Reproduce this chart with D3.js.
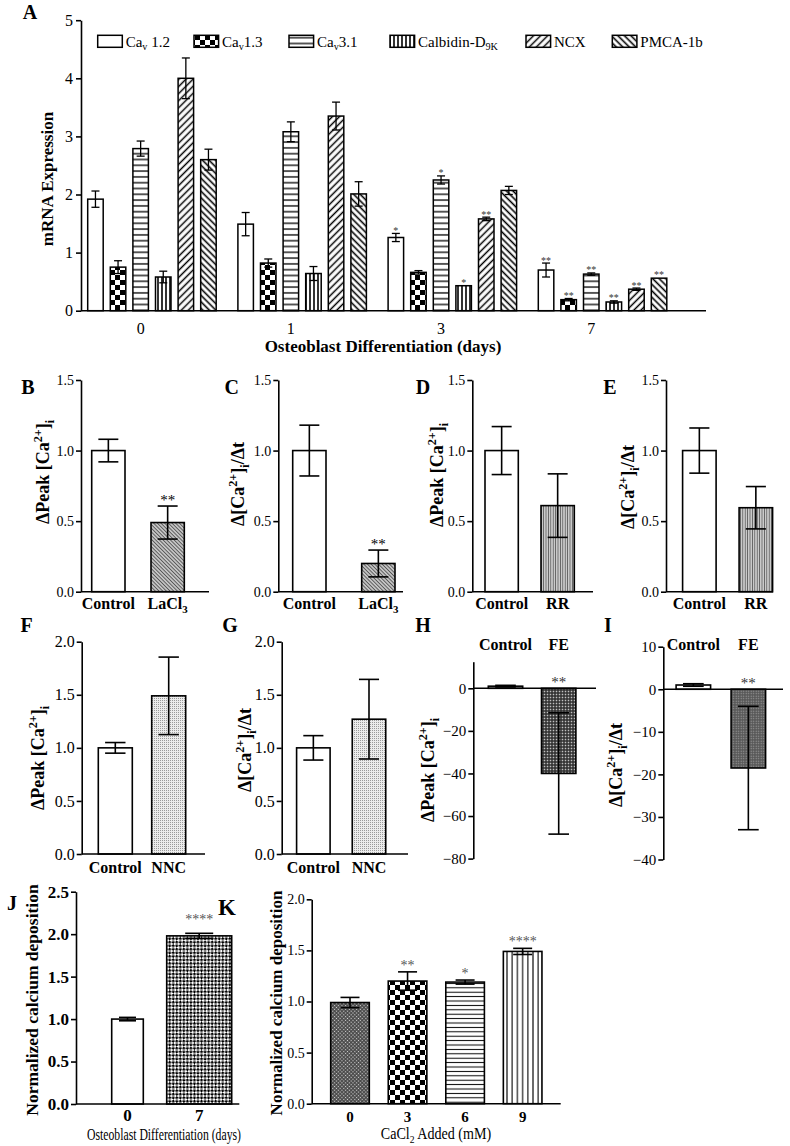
<!DOCTYPE html>
<html><head><meta charset="utf-8">
<script src="https://cdn.jsdelivr.net/npm/d3@7"></script>
<style>
body{margin:0;background:#fff;}
svg{display:block;}
svg text{font-family:"Liberation Serif","Times New Roman",Times,serif;}
</style></head><body>
<svg id="c" width="790" height="1146"></svg>
<script>
// ---------------- DATA ----------------
// Panel A: mRNA expression vs osteoblast differentiation day
const days = ["0", "1", "3", "7"];
const genes = ["Cav1.2", "Cav1.3", "Cav3.1", "Calbidin-D9K", "NCX", "PMCA-1b"];
const cav12Mean = [1.92, 1.49, 1.26, 0.70];
const cav12Err  = [0.14, 0.20, 0.07, 0.12];
const cav12Sig  = ["", "", "*", "**"];
const cav13Mean = [0.75, 0.82, 0.66, 0.19];
const cav13Err  = [0.11, 0.07, 0.03, 0.02];
const cav13Sig  = ["", "", "", "**"];
const cav31Mean = [2.79, 3.08, 2.25, 0.63];
const cav31Err  = [0.13, 0.17, 0.07, 0.02];
const cav31Sig  = ["", "", "*", "**"];
const calbMean  = [0.58, 0.64, 0.43, 0.15];
const calbErr   = [0.10, 0.12, 0.01, 0.02];
const calbSig   = ["", "", "*", "**"];
const ncxMean   = [4.00, 3.35, 1.58, 0.37];
const ncxErr    = [0.35, 0.24, 0.03, 0.02];
const ncxSig    = ["", "", "**", "**"];
const pmcaMean  = [2.60, 2.01, 2.07, 0.56];
const pmcaErr   = [0.18, 0.21, 0.07, 0.005];
const pmcaSig   = ["", "", "", "**"];
const aTicks = [0, 1, 2, 3, 4, 5];

// Panels B-E
const laCats = ["Control", "LaCl3"];
const bMean = [1.0, 0.49];  const bErr = [0.08, 0.117]; const bSig = ["", "**"];
const cMean = [1.0, 0.20];  const cErr = [0.18, 0.095]; const cSig = ["", "**"];
const rrCats = ["Control", "RR"];
const dMean = [1.0, 0.61];  const dErr = [0.17, 0.225]; const dSig = ["", ""];
const eMean = [1.0, 0.595]; const eErr = [0.16, 0.15];  const eSig = ["", ""];
const ticks15 = [0, 0.5, 1.0, 1.5];
// Panels F-G
const nncCats = ["Control", "NNC"];
const fMean = [1.0, 1.49];  const fErr = [0.05, 0.365]; const fSig = ["", ""];
const gMean = [1.0, 1.27];  const gErr = [0.115, 0.375]; const gSig = ["", ""];
const ticks20 = [0, 0.5, 1.0, 1.5, 2.0];
// Panels H-I
const feCats = ["Control", "FE"];
const hMean = [1.0, -40];   const hErr = [0.4, 28.5];  const hSig = ["", "**"];
const hTicks = [-80, -60, -40, -20, 0];
const iMean = [1.0, -18.5]; const iErr = [0.3, 14.5];  const iSig = ["", "**"];
const iTicks = [-40, -30, -20, -10, 0, 10];
// Panel J
const jCats = ["0", "7"];
const jMean = [1.0, 1.98];  const jErr = [0.02, 0.03]; const jSig = ["", "****"];
const jTicks = [0, 0.5, 1.0, 1.5, 2.0, 2.5];
// Panel K
const kCats = ["0", "3", "6", "9"];
const kMean = [0.99, 1.20, 1.19, 1.49];
const kErr  = [0.05, 0.09, 0.02, 0.03];
const kSig  = ["", "**", "*", "****"];

// ---------------- SETUP ----------------
const FONT = "Liberation Serif, Times New Roman, Times, serif";
const svg = d3.select("#c");
const defs = svg.append("defs");

function mkPat(id, w, h, bg, tr) {
  const p = defs.append("pattern").attr("id", id)
    .attr("patternUnits", "userSpaceOnUse").attr("width", w).attr("height", h);
  if (tr) p.attr("patternTransform", tr);
  if (bg) p.append("rect").attr("width", w).attr("height", h).attr("fill", bg);
  return p;
}
function vline(p, x, h, col, sw) { p.append("line").attr("x1", x).attr("x2", x).attr("y1", -1).attr("y2", h + 1).attr("stroke", col).attr("stroke-width", sw); }
function hline(p, y, w, col, sw) { p.append("line").attr("y1", y).attr("y2", y).attr("x1", -1).attr("x2", w + 1).attr("stroke", col).attr("stroke-width", sw); }

mkPat("white", 4, 4, "#fff");
{ const p = mkPat("chk5", 10, 10, "#fff");
  p.append("rect").attr("width", 5).attr("height", 5).attr("fill", "#000");
  p.append("rect").attr("x", 5).attr("y", 5).attr("width", 5).attr("height", 5).attr("fill", "#000"); }
{ const p = mkPat("hl", 6, 5.8, "#fff"); hline(p, 2.9, 6, "#000", 1.3); }
{ const p = mkPat("vl", 4, 4, "#fff"); vline(p, 2, 4, "#000", 1.6); }
{ const p = mkPat("dr", 5, 5, "#fff", "rotate(45)"); vline(p, 2.5, 5, "#000", 1.5); }
{ const p = mkPat("dl", 4.6, 4.6, "#fff", "rotate(-45)"); vline(p, 2.3, 4.6, "#000", 1.6); }
{ const p = mkPat("la", 2.6, 2.6, "#c4c4c4", "rotate(-45)"); vline(p, 1.3, 2.6, "#4a4a4a", 0.8); }
{ const p = mkPat("rr", 2.4, 2.4, "#cacaca"); vline(p, 1.2, 2.4, "#4a4a4a", 0.7); }
{ const p = mkPat("nnc", 2, 2, "#ececec"); p.append("rect").attr("width", 1).attr("height", 1).attr("fill", "#9a9a9a"); }
{ const p = mkPat("feh", 3, 3, "#2a2a2a"); p.append("rect").attr("x", 0.7).attr("y", 0.7).attr("width", 1.6).attr("height", 1.6).attr("fill", "#c0c0c0"); }
{ const p = mkPat("fei", 2.5, 2.5, "#555"); p.append("rect").attr("x", 0.6).attr("y", 0.6).attr("width", 1.2).attr("height", 1.2).attr("fill", "#a0a0a0"); }
{ const p = mkPat("j7", 5, 5, "#fff", "rotate(45)");
  p.append("rect").attr("width", 2.5).attr("height", 2.5).attr("fill", "#000");
  p.append("rect").attr("x", 2.5).attr("y", 2.5).attr("width", 2.5).attr("height", 2.5).attr("fill", "#000"); }
{ const p = mkPat("k0", 2.6, 2.6, "#444", "rotate(45)"); p.append("rect").attr("x", 0.7).attr("y", 0.7).attr("width", 1.2).attr("height", 1.2).attr("fill", "#ddd"); }
{ const p = mkPat("k6", 5, 4.4, "#fff"); hline(p, 2.2, 5, "#000", 1.0); }
{ const p = mkPat("k9", 5.2, 5, "#fff"); vline(p, 2.6, 5, "#000", 1.1); }

function rich(t, parts, fs) {
  let off = 0;
  parts.forEach(p => {
    const [s, ty] = Array.isArray(p) ? p : [p, null];
    const target = ty === "sup" ? -0.4 * fs : ty === "sub" ? 0.26 * fs : 0;
    const ts = t.append("tspan").text(s).attr("dy", (target - off).toFixed(2));
    if (ty) ts.attr("font-size", (fs * 0.68).toFixed(1));
    off = target;
  });
  return t;
}
function catParts(c) {
  if (c === "LaCl3") return ["LaCl", ["3", "sub"]];
  return [c];
}
const peakLabel = ["\u0394Peak [Ca", ["2+", "sup"], "]", ["i", "sub"]];
const rateLabel = ["\u0394[Ca", ["2+", "sup"], "]", ["i", "sub"], "/\u0394t"];

function styleAxis(a, fs, bold) {
  a.attr("font-family", FONT).attr("font-size", fs);
  a.select(".domain").attr("stroke", "#000").attr("stroke-width", 1.6);
  a.selectAll(".tick line").attr("stroke", "#000").attr("stroke-width", 1.6);
  a.selectAll(".tick text").attr("fill", "#000").attr("font-weight", bold ? "bold" : "normal");
}
function yLabel(cx, cy, parts, fs) {
  const t = svg.append("text").attr("transform", `translate(${cx + 0.34 * fs},${cy}) rotate(-90)`)
    .attr("text-anchor", "middle").attr("font-size", fs).attr("font-weight", "bold");
  rich(t, parts, fs);
}
function letter(s, x, y, fs) {
  svg.append("text").attr("x", x).attr("y", y).attr("text-anchor", "middle")
    .attr("font-size", fs || 20).attr("font-weight", "bold").text(s);
}

// ---------------- PANEL A ----------------
(function () {
  const g = svg.append("g");
  const means = [cav12Mean, cav13Mean, cav31Mean, calbMean, ncxMean, pmcaMean];
  const errs = [cav12Err, cav13Err, cav31Err, calbErr, ncxErr, pmcaErr];
  const sigs = [cav12Sig, cav13Sig, cav31Sig, calbSig, ncxSig, pmcaSig];
  const fills = ["white", "chk5", "hl", "vl", "dr", "dl"];
  const y = d3.scaleLinear().domain([0, 5]).range([310.7, 20.2]);
  const x0 = d3.scaleBand().domain(days).range([87.7, 666.8]).paddingInner(0.1445).paddingOuter(0);
  const x1 = d3.scaleBand().domain(genes).range([0, x0.bandwidth()]).paddingInner(0.314).paddingOuter(0);
  const bw = x1.bandwidth();
  days.forEach((d, di) => {
    genes.forEach((gn, gi) => {
      const v = means[gi][di], e = errs[gi][di];
      const bx = x0(d) + x1(gn);
      g.append("rect").attr("x", bx).attr("y", y(v)).attr("width", bw).attr("height", y(0) - y(v))
        .attr("fill", `url(#${fills[gi]})`).attr("stroke", "#000").attr("stroke-width", 1.5);
      const cx = bx + bw / 2;
      if (e > 0.015) {
        g.append("line").attr("x1", cx).attr("x2", cx).attr("y1", y(v - e)).attr("y2", y(v + e)).attr("stroke", "#000").attr("stroke-width", 1.3);
        [v - e, v + e].forEach(yy => g.append("line").attr("x1", cx - 4).attr("x2", cx + 4).attr("y1", y(yy)).attr("y2", y(yy)).attr("stroke", "#000").attr("stroke-width", 1.3));
      }
      const s = sigs[gi][di];
      if (s) g.append("text").attr("x", cx).attr("y", y(v + e) + 0.5).attr("text-anchor", "middle")
        .attr("font-size", 10).attr("fill", "#333").text(s);
    });
    // day label under the Cav3.1 bar
    g.append("text").attr("x", x0(d) + x1("Cav3.1") + bw / 2).attr("y", 334).attr("text-anchor", "middle")
      .attr("font-size", 16).text(d);
  });
  g.append("line").attr("x1", 81).attr("x2", 706).attr("y1", y(0)).attr("y2", y(0)).attr("stroke", "#000").attr("stroke-width", 1.6);
  const ya = g.append("g").attr("transform", "translate(81,0)")
    .call(d3.axisLeft(y).tickValues(aTicks).tickFormat(d3.format("d")).tickSize(5).tickSizeOuter(0).tickPadding(3));
  styleAxis(ya, 16, false);
  yLabel(47, 179, ["mRNA Expression"], 17);
  g.append("text").attr("x", 383).attr("y", 352).attr("text-anchor", "middle").attr("font-size", 17)
    .attr("font-weight", "bold").text("Osteoblast Differentiation (days)");
  // legend
  const legX = [97.7, 194, 289, 390, 526, 612.3];
  const legParts = [["Ca", ["v", "sub"], " 1.2"], ["Ca", ["v", "sub"], "1.3"], ["Ca", ["v", "sub"], "3.1"],
                    ["Calbidin-D", ["9K", "sub"]], ["NCX"], ["PMCA-1b"]];
  genes.forEach((gn, gi) => {
    g.append("rect").attr("x", legX[gi]).attr("y", 35.3).attr("width", 24.6).attr("height", 12)
      .attr("fill", `url(#${fills[gi]})`).attr("stroke", "#000").attr("stroke-width", 1.5);
    const t = g.append("text").attr("x", legX[gi] + 28).attr("y", 46.5).attr("font-size", 15);
    rich(t, legParts[gi], 15);
  });
  letter("A", 30, 19, 20);
})();

// ---------------- GENERIC PANEL ----------------
function barPanel(o) {
  const g = svg.append("g");
  const y = d3.scaleLinear().domain(o.domain).range(o.yRange);
  const x = d3.scalePoint().domain(o.cats).range(o.centers);
  const y0 = y(0);
  o.cats.forEach((c, i) => {
    const w = o.widths ? o.widths[i] : o.bw;
    const cx = x(c), v = o.mean[i], e = o.err[i];
    g.append("rect").attr("x", cx - w / 2).attr("y", Math.min(y(v), y0)).attr("width", w)
      .attr("height", Math.abs(y(v) - y0)).attr("fill", `url(#${o.fills[i]})`)
      .attr("stroke", "#000").attr("stroke-width", 1.6);
    const cw = (o.caps ? o.caps[i] : w * 0.6) / 2;
    g.append("line").attr("x1", cx).attr("x2", cx).attr("y1", y(v - e)).attr("y2", y(v + e)).attr("stroke", "#000").attr("stroke-width", 1.6);
    [v - e, v + e].forEach(yy => g.append("line").attr("x1", cx - cw).attr("x2", cx + cw).attr("y1", y(yy)).attr("y2", y(yy)).attr("stroke", "#000").attr("stroke-width", 1.6));
    if (o.sig[i]) {
      const sy = o.starAtZero ? y0 - 1 : y(v + e) - o.starGap;
      g.append("text").attr("x", cx).attr("y", sy).attr("text-anchor", "middle").attr("font-size", o.starFs)
        .attr("fill", o.starCol || "#000").text(o.sig[i]);
    }
    const t = g.append("text").attr("x", cx).attr("y", o.catY).attr("text-anchor", "middle")
      .attr("font-size", o.catFs || 16).attr("font-weight", "bold");
    rich(t, catParts(c), o.catFs || 16);
  });
  g.append("line").attr("x1", o.axisX).attr("x2", o.xEnd).attr("y1", y0).attr("y2", y0).attr("stroke", "#000").attr("stroke-width", 1.6);
  const ya = g.append("g").attr("transform", `translate(${o.axisX},0)`)
    .call(d3.axisLeft(y).tickValues(o.ticks).tickFormat(d3.format(o.fmt)).tickSize(5).tickSizeOuter(0).tickPadding(2));
  styleAxis(ya, o.tickFs || 14, o.tickBold);
  return { x, y };
}

const LBL = 18;
// B
barPanel({ cats: laCats, mean: bMean, err: bErr, sig: bSig, fills: ["white", "la"], domain: [0, 1.5], yRange: [591.7, 380],
  ticks: ticks15, fmt: ".1f", axisX: 81, xEnd: 209, centers: [108.35, 167.65], bw: 33.3, catY: 609, starFs: 15, starGap: 1, tickFs: 14 });
yLabel(43, 472, peakLabel, LBL); letter("B", 28, 394);
// C
barPanel({ cats: laCats, mean: cMean, err: cErr, sig: cSig, fills: ["white", "la"], domain: [0, 1.5], yRange: [591.7, 380],
  ticks: ticks15, fmt: ".1f", axisX: 278.3, xEnd: 403, centers: [309.35, 378.35], bw: 33.3, catY: 609, starFs: 15, starGap: 1, tickFs: 14 });
yLabel(238, 484, rateLabel, LBL); letter("C", 231.7, 394);
// D
barPanel({ cats: rrCats, mean: dMean, err: dErr, sig: dSig, fills: ["white", "rr"], domain: [0, 1.5], yRange: [591.7, 380],
  ticks: ticks15, fmt: ".1f", axisX: 472.3, xEnd: 593, centers: [501.65, 557.65], bw: 33.3, catY: 609, starFs: 15, starGap: 1, tickFs: 14 });
yLabel(436.7, 475, peakLabel, LBL); letter("D", 423, 394);
// E
barPanel({ cats: rrCats, mean: eMean, err: eErr, sig: eSig, fills: ["white", "rr"], domain: [0, 1.5], yRange: [591.7, 380],
  ticks: ticks15, fmt: ".1f", axisX: 666, xEnd: 773, centers: [699.35, 755.85], bw: 33.5, catY: 609, starFs: 15, starGap: 1, tickFs: 14 });
yLabel(628.3, 487, rateLabel, LBL); letter("E", 610, 394);
// F
barPanel({ cats: nncCats, mean: fMean, err: fErr, sig: fSig, fills: ["white", "nnc"], domain: [0, 2], yRange: [854, 641.7],
  ticks: ticks20, fmt: ".1f", axisX: 81.7, xEnd: 205, centers: [115.3, 168.7], bw: 34, catY: 873, starFs: 15, starGap: 1, tickFs: 16 });
yLabel(38.3, 758, peakLabel, LBL); letter("F", 26.7, 632);
// G
barPanel({ cats: nncCats, mean: gMean, err: gErr, sig: gSig, fills: ["white", "nnc"], domain: [0, 2], yRange: [854, 641.7],
  ticks: ticks20, fmt: ".1f", axisX: 281.7, xEnd: 408, centers: [313.35, 369.0], bw: 33.5, catY: 873, starFs: 15, starGap: 1, tickFs: 16 });
yLabel(245, 750, rateLabel, LBL); letter("G", 230, 632);
// H
barPanel({ cats: feCats, mean: hMean, err: hErr, sig: hSig, fills: ["white", "feh"], domain: [-80, 12.5], yRange: [858.6, 661.7],
  ticks: hTicks, fmt: "d", axisX: 473.3, xEnd: 596, centers: [505.5, 558.7], bw: 34.4, catY: 650, starFs: 15, starAtZero: true, starCol: "#333", tickFs: 15 });
yLabel(428, 770, peakLabel, LBL); letter("H", 423, 632);
// I
barPanel({ cats: feCats, mean: iMean, err: iErr, sig: iSig, fills: ["white", "fei"], domain: [-40, 10], yRange: [859.5, 646.7],
  ticks: iTicks, fmt: "d", axisX: 663.3, xEnd: 783, centers: [693.35, 748.35], bw: 34.5, catY: 650, starFs: 15, starAtZero: true, starCol: "#333", tickFs: 15 });
yLabel(616, 765, rateLabel, LBL); letter("I", 608, 632);
// J
barPanel({ cats: jCats, mean: jMean, err: jErr, sig: jSig, fills: ["white", "j7"], domain: [0, 2.5], yRange: [1104, 891.7],
  ticks: jTicks, fmt: ".1f", axisX: 76, xEnd: 239.3, centers: [127.5, 199.2], widths: [31.6, 65], caps: [17, 28],
  catY: 1121, catFs: 17, starFs: 14, starGap: 9, starCol: "#555", tickFs: 17, tickBold: true });
yLabel(31.7, 1000, ["Normalized calcium deposition"], 17.5); letter("J", 12, 910);
svg.append("text").attr("x", 164).attr("y", 1140).attr("text-anchor", "middle").attr("font-size", 16)
  .attr("textLength", 154).attr("lengthAdjust", "spacingAndGlyphs").text("Osteoblast Differentiation (days)");
// K
barPanel({ cats: kCats, mean: kMean, err: kErr, sig: kSig, fills: ["k0", "chk5", "k6", "k9"], domain: [0, 2], yRange: [1103.7, 899.3],
  ticks: ticks20, fmt: ".1f", axisX: 311.7, xEnd: 560.7, centers: [350, 522.65], bw: 38.6, caps: [19, 19, 19, 19],
  catY: 1122, catFs: 15, starFs: 14, starGap: 2, starCol: "#555", tickFs: 14 });
yLabel(276.7, 1003, ["Normalized calcium deposition"], 17); letter("K", 227, 915, 23);
{
  const t = svg.append("text").attr("transform", "translate(436,1139) scale(0.88,1)").attr("text-anchor", "middle").attr("font-size", 16);
  rich(t, ["CaCl", ["2", "sub"], " Added (mM)"], 16);
}
</script>
</body></html>
